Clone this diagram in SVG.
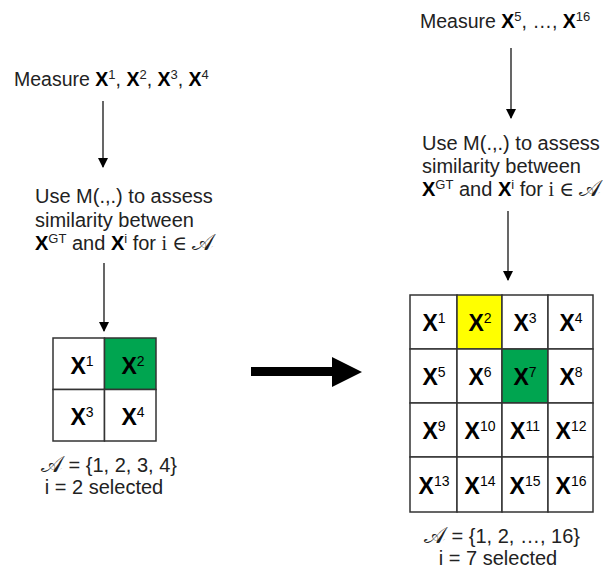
<svg xmlns="http://www.w3.org/2000/svg" width="603" height="573" viewBox="0 0 603 573">
<defs>
<marker id="ah" markerWidth="10" markerHeight="10" refX="9" refY="5" orient="auto" markerUnits="userSpaceOnUse">
<path d="M0,0 L10,5 L0,10 z" fill="#000"/>
</marker>
<style>
.t{font-family:"Liberation Sans",Arial,sans-serif;font-size:20px;fill:#222}
.m{font-size:19.5px}
.b{font-weight:bold;fill:#000}
.sup{font-size:13px;font-weight:normal}
.mi{font-family:"Liberation Serif","DejaVu Serif",serif}
.sc{font-family:"DejaVu Sans","Noto Sans",serif;font-size:23px}
.cell{fill:#fff;stroke:#333;stroke-width:1.5}
.g{fill:#00a550}
.y{fill:#ffff00}
.x{font-family:"Liberation Sans",Arial,sans-serif;font-size:23px;font-weight:bold;fill:#000;text-anchor:middle}
.xs{font-size:14px;font-weight:normal}
.c{stroke:#000;stroke-width:1.2;fill:none;marker-end:url(#ah)}
</style>
</defs>
<rect width="603" height="573" fill="#fff"/>

<g id="left-measure">
<text class="t m" x="14" y="86">Measure <tspan class="b">X</tspan><tspan class="sup" dy="-7">1</tspan><tspan dy="7">, </tspan><tspan class="b">X</tspan><tspan class="sup" dy="-7">2</tspan><tspan dy="7">, </tspan><tspan class="b">X</tspan><tspan class="sup" dy="-7">3</tspan><tspan dy="7">, </tspan><tspan class="b">X</tspan><tspan class="sup" dy="-7">4</tspan></text>
</g>

<g id="left-assess">
<text class="t" x="35" y="203">Use M(.,.) to assess</text>
<text class="t" x="35" y="227">similarity between</text>
<text class="t" x="35" y="250"><tspan class="b">X</tspan><tspan class="sup" dy="-7">GT</tspan><tspan dy="7"> and </tspan><tspan class="b">X</tspan><tspan class="sup" dy="-7">i</tspan><tspan dy="7"> for </tspan><tspan class="mi">i ∈ </tspan><tspan class="sc">𝒜</tspan></text>
</g>

<g id="left-grid">
<rect class="cell" x="53" y="338" width="51.5" height="51.5"/>
<rect class="cell g" x="104.5" y="338" width="51.5" height="51.5"/>
<rect class="cell" x="53" y="389.5" width="51.5" height="51.5"/>
<rect class="cell" x="104.5" y="389.5" width="51.5" height="51.5"/>
<text class="x" x="82" y="374">X<tspan class="xs" dy="-8">1</tspan></text>
<text class="x" x="133" y="374">X<tspan class="xs" dy="-8">2</tspan></text>
<text class="x" x="82" y="425">X<tspan class="xs" dy="-8">3</tspan></text>
<text class="x" x="133" y="425">X<tspan class="xs" dy="-8">4</tspan></text>
</g>

<g id="left-caption">
<text class="t" x="109" y="472" text-anchor="middle"><tspan class="sc">𝒜</tspan> = {1, 2, 3, 4}</text>
<text class="t" x="104" y="494" text-anchor="middle">i = 2 selected</text>
</g>

<g id="right-measure">
<text class="t m" x="420" y="28">Measure <tspan class="b">X</tspan><tspan class="sup" dy="-7">5</tspan><tspan dy="7">, …, </tspan><tspan class="b">X</tspan><tspan class="sup" dy="-7">16</tspan></text>
</g>

<g id="right-assess">
<text class="t" x="422" y="150">Use M(.,.) to assess</text>
<text class="t" x="422" y="173">similarity between</text>
<text class="t" x="422" y="196"><tspan class="b">X</tspan><tspan class="sup" dy="-7">GT</tspan><tspan dy="7"> and </tspan><tspan class="b">X</tspan><tspan class="sup" dy="-7">i</tspan><tspan dy="7"> for </tspan><tspan class="mi">i ∈ </tspan><tspan class="sc">𝒜</tspan></text>
</g>

<g id="right-grid">
<rect class="cell" x="410" y="295" width="47" height="54"/>
<rect class="cell y" x="457" y="295" width="45" height="54"/>
<rect class="cell" x="502" y="295" width="46" height="54"/>
<rect class="cell" x="548" y="295" width="45" height="54"/>
<rect class="cell" x="410" y="349" width="47" height="54"/>
<rect class="cell" x="457" y="349" width="45" height="54"/>
<rect class="cell g" x="502" y="349" width="46" height="54"/>
<rect class="cell" x="548" y="349" width="45" height="54"/>
<rect class="cell" x="410" y="403" width="47" height="54"/>
<rect class="cell" x="457" y="403" width="45" height="54"/>
<rect class="cell" x="502" y="403" width="46" height="54"/>
<rect class="cell" x="548" y="403" width="45" height="54"/>
<rect class="cell" x="410" y="457" width="47" height="55"/>
<rect class="cell" x="457" y="457" width="45" height="55"/>
<rect class="cell" x="502" y="457" width="46" height="55"/>
<rect class="cell" x="548" y="457" width="45" height="55"/>
<text class="x" x="434" y="331">X<tspan class="xs" dy="-8">1</tspan></text>
<text class="x" x="480" y="331">X<tspan class="xs" dy="-8">2</tspan></text>
<text class="x" x="525" y="331">X<tspan class="xs" dy="-8">3</tspan></text>
<text class="x" x="571" y="331">X<tspan class="xs" dy="-8">4</tspan></text>
<text class="x" x="434" y="385">X<tspan class="xs" dy="-8">5</tspan></text>
<text class="x" x="480" y="385">X<tspan class="xs" dy="-8">6</tspan></text>
<text class="x" x="525" y="385">X<tspan class="xs" dy="-8">7</tspan></text>
<text class="x" x="571" y="385">X<tspan class="xs" dy="-8">8</tspan></text>
<text class="x" x="434" y="439">X<tspan class="xs" dy="-8">9</tspan></text>
<text class="x" x="480" y="439">X<tspan class="xs" dy="-8">10</tspan></text>
<text class="x" x="525" y="439">X<tspan class="xs" dy="-8">11</tspan></text>
<text class="x" x="571" y="439">X<tspan class="xs" dy="-8">12</tspan></text>
<text class="x" x="434" y="494">X<tspan class="xs" dy="-8">13</tspan></text>
<text class="x" x="480" y="494">X<tspan class="xs" dy="-8">14</tspan></text>
<text class="x" x="525" y="494">X<tspan class="xs" dy="-8">15</tspan></text>
<text class="x" x="571" y="494">X<tspan class="xs" dy="-8">16</tspan></text>
</g>

<g id="right-caption">
<text class="t" x="502" y="543" text-anchor="middle"><tspan class="sc">𝒜</tspan> = {1, 2, …, 16}</text>
<text class="t" x="498" y="565" text-anchor="middle">i = 7 selected</text>
</g>

<g id="connectors">
<line class="c" x1="103" y1="101" x2="103" y2="167"/>
<line class="c" x1="104" y1="263" x2="104" y2="331"/>
<line class="c" x1="511" y1="48" x2="511" y2="118"/>
<line class="c" x1="508" y1="211" x2="508" y2="280"/>
<polygon points="251,367 332,367 332,357 362,372 332,387 332,376 251,376" fill="#000"/>
</g>
</svg>
